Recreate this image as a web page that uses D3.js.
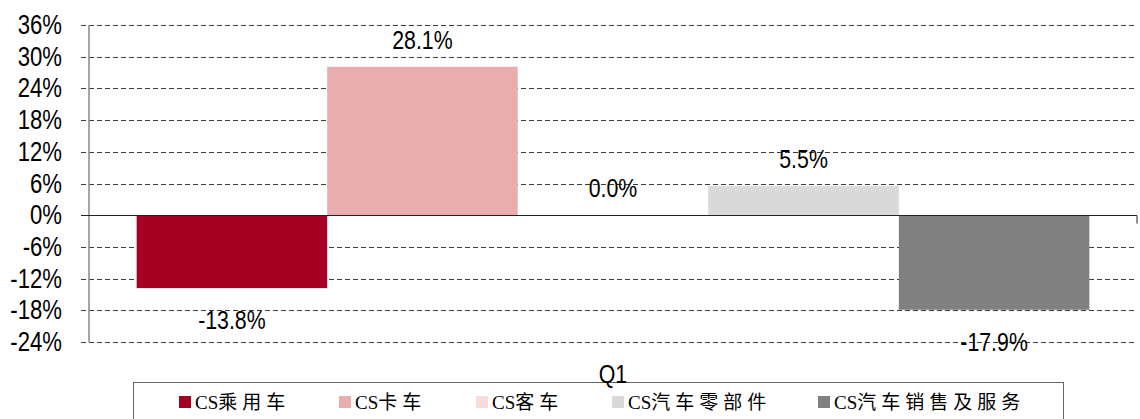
<!DOCTYPE html>
<html>
<head>
<meta charset="utf-8">
<script src="https://cdn.jsdelivr.net/npm/d3@7/dist/d3.min.js"></script>
<style>
  body { margin: 0; background: #fff; }
  svg { display: block; }
</style>
</head>
<body>
<svg id="chart" width="1140" height="419"></svg>
<script>
'use strict';

// data
const categories = ["Q1"];
const seriesNames = ["CS乘用车", "CS卡车", "CS客车", "CS汽车零部件", "CS汽车销售及服务"];
const seriesValues = [-13.8, 28.1, 0.0, 5.5, -17.9];
const seriesColors = ["#a50021", "#e8aeae", "#f6dcdc", "#d9d9d9", "#808080"];
const yTicks = [-24, -18, -12, -6, 0, 6, 12, 18, 24, 30, 36];

const plotLeft = 89, plotRight = 1137, plotTop = 25, plotBottom = 342;
const legendX = [179, 339, 476, 612, 818];
const narrow = 0.82;   // the chart font looks like Arial Narrow

const svg = d3.select("#chart");

const y = d3.scaleLinear()
  .domain([-24, 36])
  .range([plotBottom, plotTop]);

const x0 = d3.scaleBand()
  .domain(categories)
  .range([plotLeft, plotRight])
  .paddingInner(0)
  .paddingOuter(0.05);

const x1 = d3.scaleBand()
  .domain(seriesNames)
  .range([0, x0.bandwidth()])
  .padding(0);


function narrowText(sel, tx, ty) {
  return sel.attr("transform", `translate(${tx},${ty}) scale(${narrow},1)`)
    .attr("font-family", "'Liberation Sans', Arial, sans-serif")
    .attr("fill", "#000");
}


// grid lines
svg.append("g")
  .selectAll("line")
  .data(yTicks.filter(t => t !== 0))
  .join("line")
  .attr("x1", plotLeft - 8)
  .attr("x2", plotRight)
  .attr("y1", d => Math.round(y(d)) + 0.5)
  .attr("y2", d => Math.round(y(d)) + 0.5)
  .attr("stroke", "#3a3a3a")
  .attr("stroke-width", 1)
  .attr("stroke-dasharray", "5,3");

// y axis line
svg.append("line")
  .attr("x1", plotLeft).attr("x2", plotLeft)
  .attr("y1", y(36)).attr("y2", y(-24))
  .attr("stroke", "#888")
  .attr("stroke-width", 1.5);

// tick labels
yTicks.forEach(t => {
  svg.append("text")
    .call(narrowText, 62, y(t) + 9)
    .attr("text-anchor", "end")
    .attr("font-size", 27)
    .text(t + "%");
});

// bars
const grp = svg.append("g")
  .attr("transform", `translate(${x0("Q1")},0)`);

grp.selectAll("rect")
  .data(seriesValues)
  .join("rect")
  .attr("x", (d, i) => x1(seriesNames[i]))
  .attr("width", x1.bandwidth())
  .attr("y", d => y(Math.max(0, d)))
  .attr("height", d => Math.abs(y(d) - y(0)))
  .attr("fill", (d, i) => seriesColors[i]);

// zero line + end tick
const y0 = Math.round(y(0)) + 0.5;
svg.append("line")
  .attr("x1", plotLeft - 8).attr("x2", plotRight)
  .attr("y1", y0).attr("y2", y0)
  .attr("stroke", "#222")
  .attr("stroke-width", 1.2);
svg.append("line")
  .attr("x1", plotRight).attr("x2", plotRight)
  .attr("y1", y0).attr("y2", y0 + 8)
  .attr("stroke", "#222");

// value labels
seriesValues.forEach((v, i) => {
  const cx = x0("Q1") + x1(seriesNames[i]) + x1.bandwidth() / 2;
  const ty = v >= 0 ? y(v) - 18 : y(v) + 41;
  svg.append("text")
    .call(narrowText, cx, ty)
    .attr("text-anchor", "middle")
    .attr("font-size", 26)
    .text(v.toFixed(1) + "%");
});

// legend box
svg.append("rect")
  .attr("x", 133.5)
  .attr("y", 382.5)
  .attr("width", 930)
  .attr("height", 60)
  .attr("fill", "#fff")
  .attr("stroke", "#666")
  .attr("stroke-width", 1);

// category label
categories.forEach(c => {
  svg.append("text")
    .call(narrowText, x0(c) + x0.bandwidth() / 2, 383)
    .attr("text-anchor", "middle")
    .attr("font-size", 26)
    .text(c);
});

// legend items
seriesNames.forEach((name, i) => {
  const lx = legendX[i];
  svg.append("rect")
    .attr("x", lx)
    .attr("y", 396)
    .attr("width", 12)
    .attr("height", 12)
    .attr("fill", seriesColors[i]);

  const t = svg.append("text")
    .attr("x", lx + 16)
    .attr("y", 409)
    .attr("font-size", 19)
    .attr("fill", "#000");
  t.append("tspan")
    .attr("font-family", "'Liberation Serif', 'Times New Roman', serif")
    .text(name.slice(0, 2));
  t.append("tspan")
    .attr("font-family", "'Noto Sans CJK SC', sans-serif")
    .attr("letter-spacing", 5)
    .text(name.slice(2));
});
</script>
</body>
</html>
